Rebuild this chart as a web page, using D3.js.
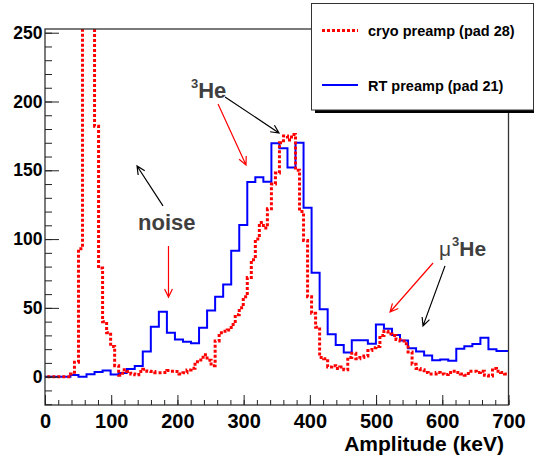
<!DOCTYPE html>
<html>
  <head>
    <meta charset="utf-8" />
    <style>
      body { margin: 0; background: #fff; }
      svg { font-family: "Liberation Sans", Arial, Helvetica, sans-serif; font-weight: bold; }
      .axis path { display: none; }
      .axis line { stroke: #222; }
      .ylab text { font-size: 17.5px; fill: #000; }
      .xlab text { font-size: 20px; fill: #000; }
    </style>
  </head>
  <body>
    <svg width="534" height="458"></svg>

    <script src="https://d3js.org/d3.v7.min.js"></script>
    <script>
      // Binning (keV) and counts
      const cryoStart = -4.07;
      const cryoWidth = 6.07;
      const cryoCounts = [
        0, 0, 0, 0, 0, 0, 0, 2, 10.5, 93, 300, 300, 300, 182, 79, 40, 32, 22, 8, 1,
        5, 3.7, 2, 1.3, 3.7, 5.4, 4, 3.7, 2.9, 2.9, 3, 4.4, 4, 3.7, 2, 2.9, 4.9, 6.1,
        10.9, 12.1, 16, 12, 8, 26, 32, 33, 34, 38, 45, 50, 58, 72, 85, 100, 112, 108,
        122, 140, 148, 170, 175, 172, 176, 150, 120, 99, 58, 46, 36, 14, 13, 7, 8, 6,
        7, 5, 14, 17, 13, 14, 15, 19, 21, 22, 30, 33, 31, 30, 27, 26, 24, 18, 9, 6, 5,
        3, 2, 2, 3, 2, 1.5, 3, 4, 3, 2, 1, 4, 4, 3, 4, 1, 0.5, 6, 4, 3, 2
      ];

      const rtStart = -10.14;
      const rtWidth = 12.14;
      const rtCounts = [
        0, 0, 0, 0, 1.2, 0, 1.7, 3.4, 4.4, 1.5, 2.7, 5.6, 7.8, 18.2, 36.3, 47.2, 32,
        27.1, 25.4, 24.2, 35.6, 48, 58.1, 66.9, 91.6, 110.2, 141.5, 144.9, 141.7,
        169.6, 166, 152, 170, 122.8, 75.6, 49, 30.8, 23, 17.5, 26.4, 26.4, 24, 38,
        34.9, 30.3, 26.2, 20.6, 18.2, 15.3, 11.9, 12.4, 11.6, 20.3, 22.1, 23.8, 28.3,
        19.9, 18.7, 18.7
      ];

      const xTicks = [0, 100, 200, 300, 400, 500, 600, 700];
      const yTicks = [0, 50, 100, 150, 200, 250];
      const legendLabels = ["cryo preamp (pad 28)", "RT preamp (pad 21)"];

      // annotations in data units: [x1, y1, x2, y2, colour]
      const arrows = [
        [271.9, 203.3, 353.4, 177.1, "#000"],
        [261.3, 198.2, 303.6, 153.9, "#f00"],
        [178.2, 124.1, 139.0, 153.1, "#000"],
        [186.5, 95.0, 186.5, 57.9, "#f00"],
        [586.0, 82.6, 521.1, 47.0, "#f00"],
        [604.1, 80.5, 570.9, 36.9, "#000"]
      ];

      const svg = d3.select("svg");
      const x = d3.scaleLinear().domain([0, 700]).range([45, 508.5]);
      const y = d3.scaleLinear().domain([-20.6, 252.7]).range([405, 29]);

      svg.append("clipPath").attr("id", "frame")
        .append("rect")
        .attr("x", x(0)).attr("y", y(252.7))
        .attr("width", x(700) - x(0)).attr("height", y(-20.6) - y(252.7));

      function steps(start, width, counts) {
        const pts = counts.map((c, i) => [start + i * width, c]);
        pts.push([start + counts.length * width, counts[counts.length - 1]]);
        return pts;
      }

      const line = d3.line()
        .x((d) => x(d[0]))
        .y((d) => y(d[1]))
        .curve(d3.curveStepAfter);

      const plot = svg.append("g").attr("clip-path", "url(#frame)");

      plot.append("path")
        .attr("d", line(steps(rtStart, rtWidth, rtCounts)))
        .attr("fill", "none")
        .attr("stroke", "#0000ff")
        .attr("stroke-width", 2);

      plot.append("path")
        .attr("d", line(steps(cryoStart, cryoWidth, cryoCounts)))
        .attr("fill", "none")
        .attr("stroke", "#ff0000")
        .attr("stroke-width", 3)
        .attr("stroke-dasharray", "3,2");

      // frame
      svg.append("rect")
        .attr("x", x(0)).attr("y", y(252.7))
        .attr("width", x(700) - x(0)).attr("height", y(-20.6) - y(252.7))
        .attr("fill", "none")
        .attr("stroke", "#333")
        .attr("stroke-width", 1.3);

      // y axis, ticks inside
      svg.append("g")
        .attr("class", "axis")
        .attr("transform", `translate(${x(0)},0)`)
        .call(d3.axisLeft(y).tickValues(d3.range(-20, 251, 10)).tickSize(-7).tickFormat(""));
      svg.append("g")
        .attr("class", "axis ylab")
        .attr("transform", `translate(${x(0)},0)`)
        .call(d3.axisLeft(y).tickValues(yTicks).tickSize(-14).tickPadding(2.5));

      // x axis, ticks inside
      svg.append("g")
        .attr("class", "axis")
        .attr("transform", `translate(0,${y(-20.6)})`)
        .call(d3.axisBottom(x).tickValues(d3.range(0, 701, 20)).tickSize(-5).tickFormat(""));
      svg.append("g")
        .attr("class", "axis xlab")
        .attr("transform", `translate(0,${y(-20.6)})`)
        .call(d3.axisBottom(x).tickValues(xTicks).tickSize(-10).tickPadding(9));

      svg.append("text")
        .attr("x", 504).attr("y", 450.5)
        .attr("text-anchor", "end")
        .attr("font-size", 21)
        .text("Amplitude (keV)");

      // annotations
      function arrow(a) {
        const [x1, y1, x2, y2] = [x(a[0]), y(a[1]), x(a[2]), y(a[3])];
        const ang = Math.atan2(y2 - y1, x2 - x1);
        const L = 9, w = 0.45;
        const p1 = [x2 - L * Math.cos(ang - w), y2 - L * Math.sin(ang - w)];
        const p2 = [x2 - L * Math.cos(ang + w), y2 - L * Math.sin(ang + w)];
        svg.append("path")
          .attr("d", `M${x1},${y1}L${x2},${y2}M${p1}L${x2},${y2}L${p2}`)
          .attr("fill", "none")
          .attr("stroke", a[4])
          .attr("stroke-width", 1.2);
      }
      arrows.forEach(arrow);

      const grey = "#3f3f3f";
      const he = svg.append("text").attr("x", x(220.5)).attr("y", y(202.5)).attr("fill", grey);
      he.append("tspan").attr("font-size", 13).attr("dy", -10).text("3");
      he.append("tspan").attr("font-size", 22).attr("dy", 10).text("He");

      svg.append("text")
        .attr("x", x(140.5)).attr("y", y(106.6))
        .attr("fill", grey).attr("font-size", 22)
        .text("noise");

      const mu = svg.append("text").attr("x", x(595)).attr("y", y(88)).attr("fill", grey);
      mu.append("tspan").attr("font-size", 21).attr("font-weight", "normal").text("μ");
      mu.append("tspan").attr("font-size", 13).attr("dy", -10).attr("dx", 1).text("3");
      mu.append("tspan").attr("font-size", 21).attr("dy", 10).text("He");

      // legend with shadow
      const lg = svg.append("g");
      lg.append("rect").attr("x", 315).attr("y", 7).attr("width", 225).attr("height", 106).attr("fill", "#000");
      lg.append("rect").attr("x", 311.5).attr("y", 3.5).attr("width", 222).attr("height", 106.5)
        .attr("fill", "#fff").attr("stroke", "#333").attr("stroke-width", 1);
      lg.append("line").attr("x1", 322).attr("x2", 358).attr("y1", 30.5).attr("y2", 30.5)
        .attr("stroke", "#ff0000").attr("stroke-width", 3).attr("stroke-dasharray", "3,2");
      lg.append("line").attr("x1", 322).attr("x2", 358).attr("y1", 85).attr("y2", 85)
        .attr("stroke", "#0000ff").attr("stroke-width", 2);
      lg.selectAll("text.leg")
        .data(legendLabels)
        .join("text")
        .attr("class", "leg")
        .attr("x", 368)
        .attr("y", (d, i) => (i === 0 ? 35.5 : 90.5))
        .attr("font-size", 14.5)
        .text((d) => d);
    </script>
  </body>
</html>
